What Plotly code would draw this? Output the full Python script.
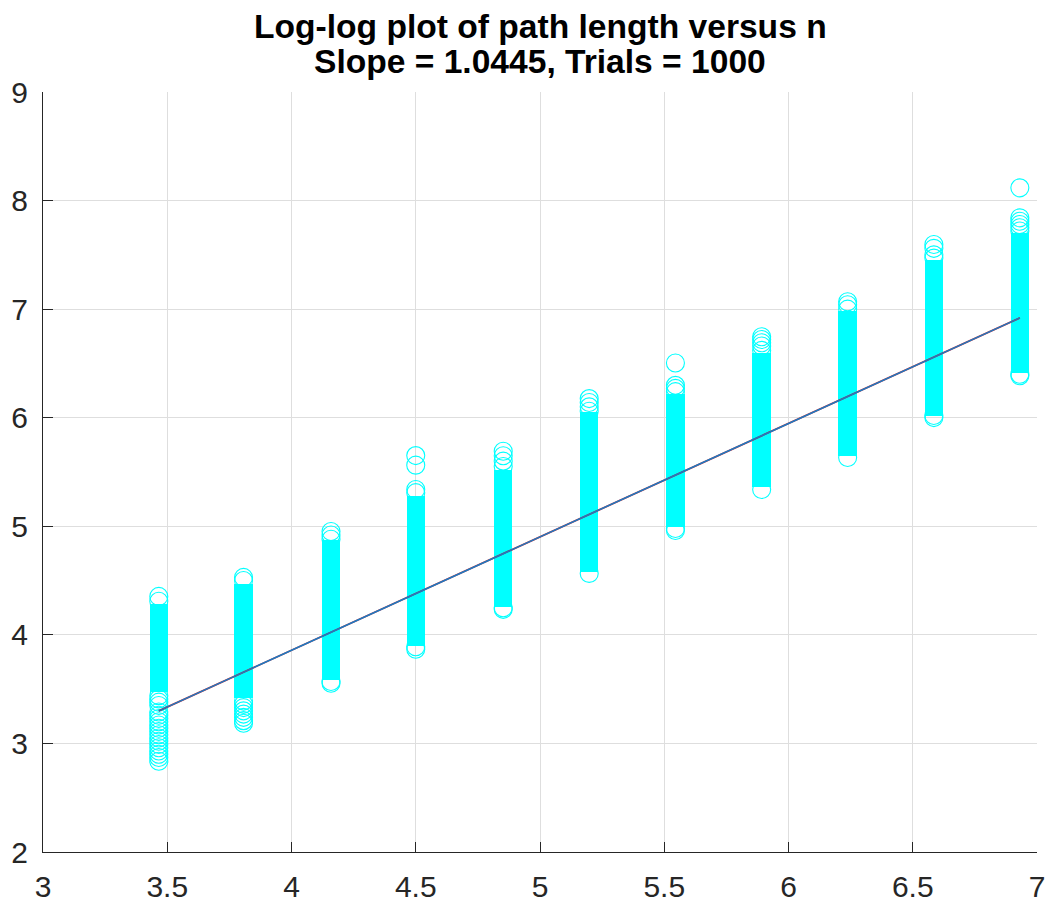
import plotly.graph_objects as go

# ---- data ----
# x positions = log(n) for each n tested
x_pos = [3.466, 3.807, 4.159, 4.500, 4.852, 5.198, 5.545, 5.892, 6.238, 6.585, 6.931]

# dense part of each column (log path length), where the 1000 circles merge into a solid band
band_lo = [3.47, 3.42, 3.58, 3.90, 4.26, 4.58, 4.99, 5.36, 5.65, 6.02, 6.41]
band_hi = [4.28, 4.47, 4.87, 5.28, 5.52, 6.05, 6.22, 6.60, 6.98, 7.45, 7.70]

# individually visible circles (edges of each column and outliers)
col1_rings = [2.836, 2.87, 2.90, 2.93, 2.96, 2.99, 3.02, 3.05, 3.08, 3.11, 3.14, 3.17,
              3.20, 3.23, 3.26, 3.29, 3.35, 3.38, 3.41, 3.44, 4.31, 4.354]
col2_rings = [3.186, 3.21, 3.24, 3.27, 3.30, 3.33, 3.36, 3.39, 4.50, 4.529]
col3_rings = [3.554, 3.57, 4.88, 4.92, 4.952]
col4_rings = [3.867, 3.89, 5.31, 5.339, 5.563, 5.651]
col5_rings = [4.235, 4.25, 5.55, 5.60, 5.65, 5.691]
col6_rings = [4.566, 6.06, 6.10, 6.14, 6.176]
col7_rings = [4.961, 4.98, 6.24, 6.27, 6.298, 6.504]
col8_rings = [5.339, 6.62, 6.66, 6.69, 6.72, 6.746]
col9_rings = [5.633, 7.00, 7.04, 7.068]
col10_rings = [6.001, 6.02, 7.47, 7.50, 7.56, 7.595]
col11_rings = [6.387, 6.40, 7.72, 7.75, 7.78, 7.81, 7.841, 8.117]

# least-squares fit shown in the chart
fit_slope = 1.0445
fit_intercept = -0.32

# tick labels
x_ticks = [3, 3.5, 4, 4.5, 5, 5.5, 6, 6.5, 7]
x_tick_text = ["3", "3.5", "4", "4.5", "5", "5.5", "6", "6.5", "7"]
y_ticks = [2, 3, 4, 5, 6, 7, 8, 9]

title_line1 = "Log-log plot of path length versus n"
title_line2 = "Slope = 1.0445, Trials = 1000"

# ---- build ----
all_rings = [col1_rings, col2_rings, col3_rings, col4_rings, col5_rings, col6_rings,
             col7_rings, col8_rings, col9_rings, col10_rings, col11_rings]
ring_x, ring_y = [], []
for xv, vals in zip(x_pos, all_rings):
    ring_x += [xv] * len(vals)
    ring_y += vals

CYAN = "#00ffff"
fig = go.Figure()
fig.add_trace(go.Bar(
    x=x_pos, y=[h - l for l, h in zip(band_lo, band_hi)], base=band_lo,
    width=0.074, marker=dict(color=CYAN, line=dict(width=0)), showlegend=False))
fig.add_trace(go.Scatter(
    x=ring_x, y=ring_y, mode="markers", showlegend=False, cliponaxis=False,
    marker=dict(symbol="circle-open", size=18, color=CYAN, line=dict(width=1.1, color=CYAN))))
fit_y = [fit_intercept + fit_slope * xv for xv in x_pos]
fig.add_trace(go.Scatter(x=x_pos, y=fit_y, mode="lines", showlegend=False,
                         line=dict(color="#d0202a", width=1.8)))
fig.add_trace(go.Scatter(x=x_pos, y=fit_y, mode="lines", showlegend=False,
                         line=dict(color="#1a7cc4", width=1.5)))

TICKFONT = dict(family="Liberation Sans, Arial, sans-serif", size=30, color="#262626")
axis_common = dict(
    showgrid=True, gridcolor="#dedede", gridwidth=1,
    showline=True, linecolor="#262626", linewidth=1, mirror=False,
    ticks="inside", ticklen=10, tickcolor="#262626", tickwidth=1,
    zeroline=False, automargin=False, ticklabeloverflow="allow",
    tickfont=TICKFONT,
)
fig.update_xaxes(range=[3, 7], tickvals=x_ticks, ticktext=x_tick_text,
                 ticklabelstandoff=8, **axis_common)
fig.update_yaxes(range=[2, 9], tickvals=y_ticks, ticklabelstandoff=8, **axis_common)

tfont = dict(family="Liberation Sans, Arial, sans-serif", size=33.6, color="#000000")
fig.add_annotation(text="<b>" + title_line1 + "</b>", x=0.5, xref="paper",
                   y=1 + 65.5 / 760, yref="paper", yanchor="middle",
                   showarrow=False, font=tfont)
fig.add_annotation(text="<b>" + title_line2 + "</b>", x=0.5, xref="paper",
                   y=1 + 30 / 760, yref="paper", yanchor="middle",
                   showarrow=False, font=tfont)

fig.update_layout(
    width=1045, height=903,
    margin=dict(l=43, r=8, t=92, b=51),
    plot_bgcolor="white", paper_bgcolor="white",
    bargap=0, showlegend=False,
)
# remove the page's default body margin so the 1045x903 figure fills the window exactly
fig.write_html("out.html", config={"displayModeBar": False},
               post_script="document.body.style.margin='0';document.body.style.overflow='hidden';")
